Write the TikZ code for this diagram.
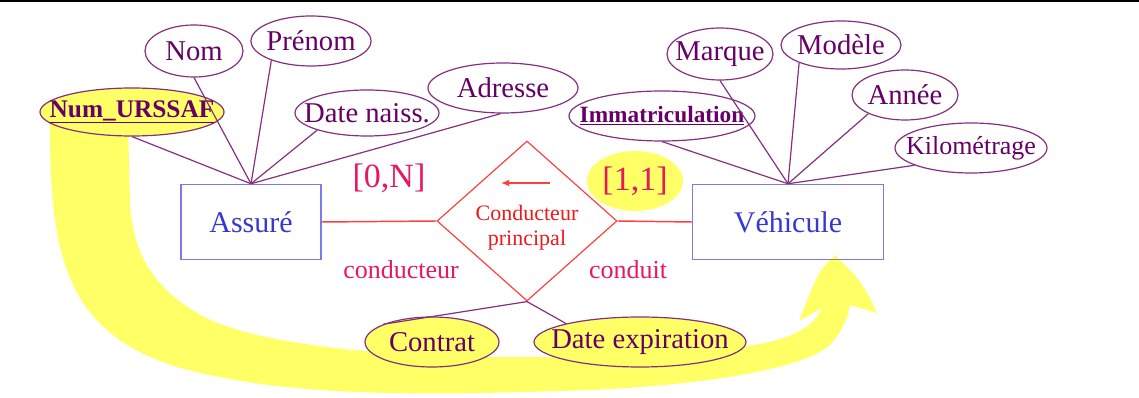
\documentclass[tikz,border=0pt]{standalone}
\usepackage{fontspec}
\setmainfont{Liberation Serif}
\usetikzlibrary{shapes.geometric,arrows.meta}

\definecolor{hl}{HTML}{FFFF66}
\definecolor{attrline}{HTML}{84307F}
\definecolor{attrtext}{HTML}{660066}
\definecolor{entline}{HTML}{7A7AE8}
\definecolor{enttext}{HTML}{3838D0}
\definecolor{relline}{HTML}{FF4040}
\definecolor{reltext}{HTML}{F01818}
\definecolor{card}{HTML}{E8185E}

\tikzset{
  attr/.style={ellipse, draw=attrline, line width=0.9pt, inner sep=0pt},
  attrlbl/.style={text=attrtext, inner sep=0pt, font=\fontsize{21.5}{24}\selectfont},
  keylbl/.style={text=attrtext, inner sep=0pt, font=\bfseries\fontsize{19}{22}\selectfont},
  entity/.style={rectangle, draw=entline, line width=1.1pt, text=enttext,
    minimum height=56.25pt, inner sep=0pt, font=\fontsize{22.5}{26}\selectfont},
  rel/.style={diamond, draw=relline, line width=0.9pt, inner sep=0pt,
    minimum width=135pt, minimum height=120pt},
  rellbl/.style={text=reltext, align=center, inner sep=0pt,
    font=\fontsize{16.5}{18.75}\selectfont},
  cardlbl/.style={text=card, inner sep=0pt, font=\fontsize{25.5}{28}\selectfont},
  rolelbl/.style={text=card, inner sep=0pt, font=\fontsize{19.5}{22}\selectfont},
  link/.style={draw=attrline, line width=0.9pt},
  rlink/.style={draw=relline, line width=1.1pt},
}

\begin{document}
\begin{tikzpicture}[x=0.75pt,y=-0.75pt]
\useasboundingbox (0,0) rectangle (1139,398);
\fill[black] (0,0) rectangle (1139,2.5);

% broad yellow arrow from the key of Assuré to Véhicule
\fill[hl] (47,112) -- (50,128) .. controls (50,270) and (70,350) .. (220,377)
  .. controls (320,398) and (460,394) .. (560,391)
  .. controls (680,388) and (800,372) .. (830,345)
  .. controls (843,330) and (848,318) .. (850,305)
  -- (877,313) .. controls (862,282) .. (835,255)
  .. controls (818,272) .. (799,321)
  -- (822,308) .. controls (812,332) and (780,342) .. (740,347)
  .. controls (680,354) and (560,358) .. (480,357)
  .. controls (380,355) and (250,345) .. (197,313)
  .. controls (150,285) and (132,250) .. (130,200)
  -- (128,125) -- cycle;

% entities
\node[entity, minimum width=105pt] (assure) at (251,222) {Assuré};
\node[entity, minimum width=143.25pt] (vehicule) at (788,222) {Véhicule};

% relationship
\node[rel, label={[rellbl, yshift=-5pt]center:Conducteur\\principal}] (rel) at (527,221) {};
\coordinate (arrS) at (550,183);
\coordinate (arrE) at (501,183);
\draw[rlink, line width=0.9pt, -{Latex[length=6pt,width=5pt]}] (arrS) -- (arrE);

% attributes of Assuré
\node[attr, fill=hl, minimum width=138pt, minimum height=36pt,
  label={[keylbl]center:\underline{Num\_URSSAF}}] (urssaf) at (132,112) {};
\node[attr, minimum width=73.5pt, minimum height=39pt,
  label={[attrlbl]center:Nom}] (nom) at (194,51) {};
\node[attr, minimum width=90pt, minimum height=37.5pt,
  label={[attrlbl]center:Prénom}] (prenom) at (311,41) {};
\node[attr, minimum width=108pt, minimum height=34.5pt,
  label={[attrlbl]center:Date naiss.}] (naiss) at (367,113) {};
\node[attr, minimum width=112.5pt, minimum height=37.5pt,
  label={[attrlbl]center:Adresse}] (adresse) at (503,88) {};

% attributes of Véhicule
\node[attr, minimum width=139.5pt, minimum height=37.5pt,
  label={[keylbl, font=\bfseries\fontsize{17.5}{20}\selectfont]center:\underline{Immatriculation}}] (immat) at (662,116) {};
\node[attr, minimum width=79.5pt, minimum height=39pt,
  label={[attrlbl]center:Marque}] (marque) at (720,54) {};
\node[attr, minimum width=90pt, minimum height=36pt,
  label={[attrlbl]center:Modèle}] (modele) at (841,45) {};
\node[attr, minimum width=79.5pt, minimum height=37.5pt,
  label={[attrlbl]center:Année}] (annee) at (905,95) {};
\node[attr, minimum width=114pt, minimum height=37.5pt,
  label={[attrlbl, font=\fontsize{19.5}{22}\selectfont]center:Kilométrage}] (kilo) at (971,148) {};

% attributes of the relationship
\node[attr, fill=hl, minimum width=100.5pt, minimum height=37.5pt,
  label={[attrlbl]center:Contrat}] (contrat) at (432,342) {};
\node[attr, fill=hl, minimum width=159pt, minimum height=37.5pt,
  label={[attrlbl]center:Date expiration}] (dateexp) at (640,342) {};

% cardinalities and roles
\node[cardlbl] (c0n) at (389,178) {[0,N]};
\node[ellipse, fill=hl, minimum width=72pt, minimum height=45pt, inner sep=0pt,
  label={[cardlbl]center:[1,1]}] (c11) at (635,181) {};
\node[rolelbl] (rolea) at (401,270) {conducteur};
\node[rolelbl] (roleb) at (628,270) {conduit};

% connectors
\draw[rlink] (assure.east) -- (rel.west);
\draw[rlink] (rel.east) -- (vehicule.west);

\draw[link] (assure.north) -- (urssaf.south);
\draw[link] (assure.north) -- (nom.south);
\draw[link] (assure.north) -- (prenom.206);
\draw[link] (assure.north) -- (naiss.199);
\draw[link] (assure.north) -- (adresse.265);

\draw[link] (vehicule.north) -- (immat.south);
\draw[link] (vehicule.north) -- (marque.south);
\draw[link] (vehicule.north) -- (modele.203);
\draw[link] (vehicule.north) -- (annee.207);
\draw[link] (vehicule.north) -- (kilo.197);

\draw[link] (rel.south) -- (contrat.160);
\draw[link] (rel.south) -- (dateexp.166);
\end{tikzpicture}
\end{document}
